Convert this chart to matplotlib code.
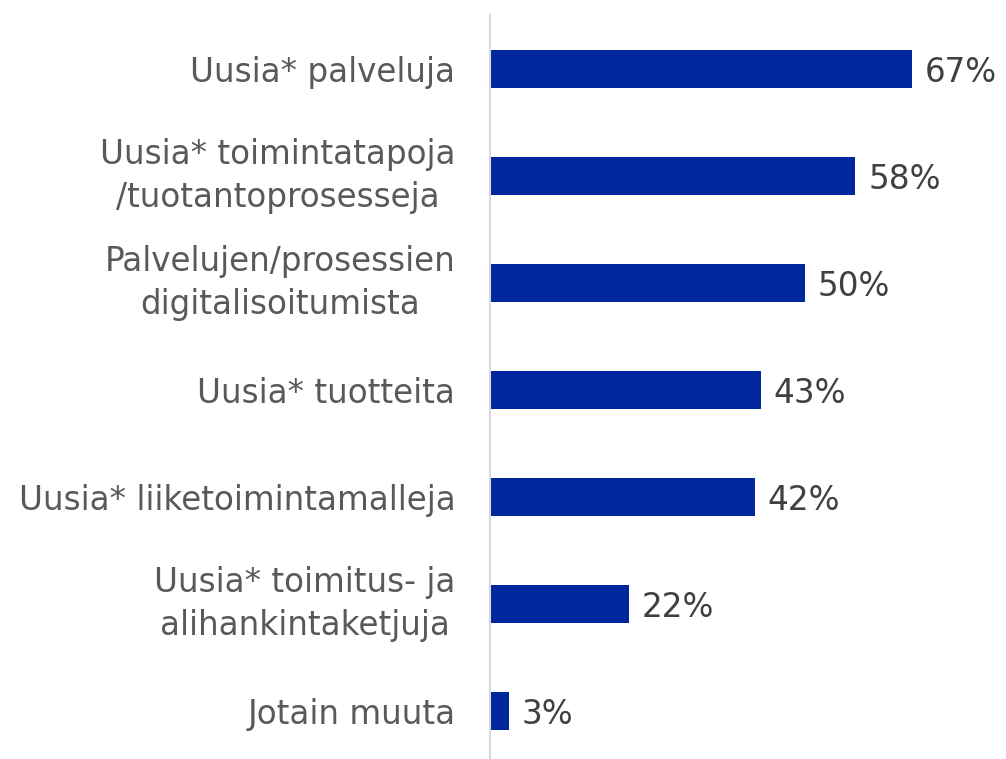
import matplotlib
matplotlib.use("Agg")
import matplotlib.pyplot as plt

# Data
categories = [
    "Uusia* palveluja",
    "Uusia* toimintatapoja\n/tuotantoprosesseja",
    "Palvelujen/prosessien\ndigitalisoitumista",
    "Uusia* tuotteita",
    "Uusia* liiketoimintamalleja",
    "Uusia* toimitus- ja\nalihankintaketjuja",
    "Jotain muuta",
]
values = [67, 58, 50, 43, 42, 22, 3]

BAR_COLOR = "#00279E"
LABEL_COLOR = "#595959"
VALUE_COLOR = "#404040"

fig = plt.figure(figsize=(10.06, 7.59), dpi=100)
ax = fig.add_axes([490 / 1006, 0, 1 - 490 / 1006, (759 - 15) / 759])

pos = list(range(len(categories)))
ax.barh(pos, values, height=0.355, color=BAR_COLOR)

for y, v in zip(pos, values):
    ax.text(v + 2.0, y + 0.03, f"{v}%", va="center", ha="left",
            fontsize=23.5, color=VALUE_COLOR)

ax.set_ylim(6.449, -0.505)
ax.set_xlim(0, 81.9)

ax.set_yticks(pos)
ax.set_yticklabels(categories, fontsize=23.5, color=LABEL_COLOR,
                   linespacing=1.38)
for lbl in ax.get_yticklabels():
    lbl.set_horizontalalignment("right")
    lbl.set_multialignment("center")
    if "\n" in lbl.get_text():
        lbl.set_verticalalignment("center")
ax.tick_params(axis="y", length=0, pad=25)
ax.set_xticks([])

for s in ["top", "right", "bottom"]:
    ax.spines[s].set_visible(False)
ax.spines["left"].set_color("#D9D9D9")
ax.spines["left"].set_linewidth(1.5)

fig.savefig("out.png", dpi=100)
